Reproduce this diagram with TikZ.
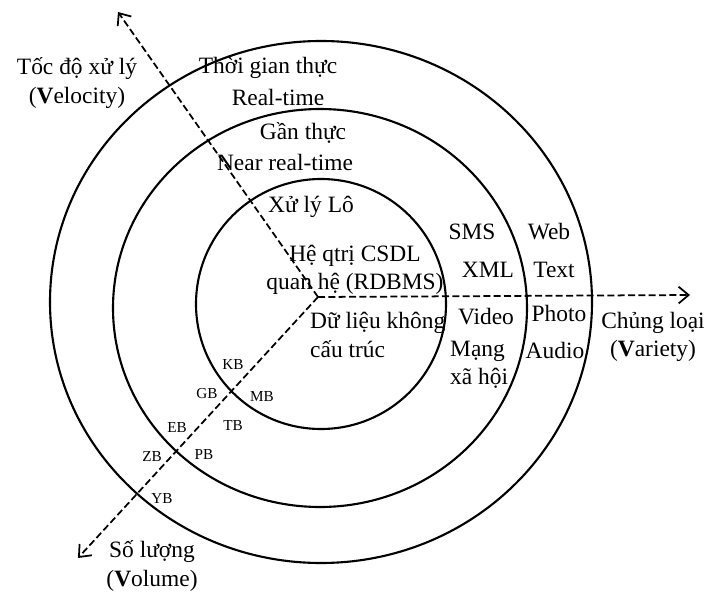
\documentclass[tikz,border=0pt]{standalone}
\usepackage{fontspec}
\setmainfont{Liberation Serif}
\usetikzlibrary{arrows.meta}
\tikzset{
  ring/.style={line width=1.8pt},
  axis/.style={line width=1.5pt, dash pattern=on 2.1mm off 1mm,
               -{Straight Barb[length=3mm,width=5mm]}},
  lbl/.style={inner sep=0pt, font=\fontsize{20}{24}\selectfont},
  unit/.style={inner sep=0pt, font=\fontsize{13}{15}\selectfont},
}

\begin{document}
\begin{tikzpicture}[x=0.3mm, y=-0.3mm]
  \useasboundingbox (0,0) rectangle (714,594);

  % rings
  \draw[ring] (321,302) ellipse [x radius=271, y radius=261];
  \draw[ring] (320,308) ellipse [x radius=207, y radius=199];
  \draw[ring] (321,304) circle [radius=125];

  % axes
  \coordinate (O) at (318,297);
  \coordinate (velTip) at (118,12);
  \coordinate (volTip) at (78,558);
  \coordinate (varTip) at (690,295);
  \draw[axis] (O) -- (velTip);
  \draw[axis] (O) -- (volTip);
  \draw[axis] (O) -- (varTip);

  % axis titles
  \node[lbl, align=center] (vel) at (77,83) {Tốc độ xử lý\\(\textbf{V}elocity)};
  \node[lbl, align=center] (vol) at (152,566) {Số lượng\\(\textbf{V}olume)};
  \node[lbl, align=center] (var) at (653,337) {Chủng loại\\(\textbf{V}ariety)};

  % ring labels
  \node[lbl] (rt1) at (268,68) {Thời gian thực};
  \node[lbl] (rt2) at (278,97) {Real-time};
  \node[lbl] (nrt1) at (303,133) {Gần thực};
  \node[lbl] (nrt2) at (285,162) {Near real-time};
  \node[lbl] (batch) at (311,207) {Xử lý Lô};

  % data types
  \node[lbl, align=center] (rdbms) at (355,270) {Hệ qtrị CSDL\\quan hệ (RDBMS)};
  \node[lbl, align=left, anchor=west] (unstr) at (310,335) {Dữ liệu không\\cấu trúc};
  \node[lbl] (sms) at (472,232) {SMS};
  \node[lbl] (xml) at (488,270) {XML};
  \node[lbl] (video) at (486,317) {Video};
  \node[lbl, align=left, anchor=west] (social) at (450,365) {Mạng\\xã hội};
  \node[lbl] (web) at (549,232) {Web};
  \node[lbl] (text) at (554,270) {Text};
  \node[lbl] (photo) at (559,313) {Photo};
  \node[lbl] (audio) at (555,350) {Audio};

  % volume units
  \node[unit] (kb) at (233,365) {KB};
  \node[unit] (mb) at (262,397) {MB};
  \node[unit] (gb) at (207,394) {GB};
  \node[unit] (tb) at (233,426) {TB};
  \node[unit] (eb) at (177,428) {EB};
  \node[unit] (pb) at (204,455) {PB};
  \node[unit] (zb) at (152,457) {ZB};
  \node[unit] (yb) at (162,499) {YB};
\end{tikzpicture}
\end{document}
